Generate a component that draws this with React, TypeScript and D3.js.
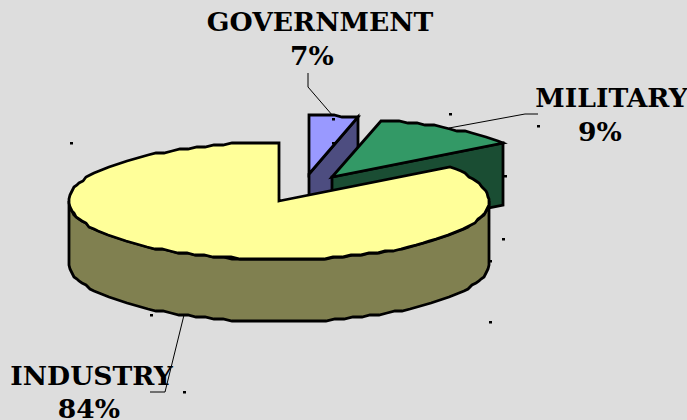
import React from "react";
import * as d3 from "d3";

const categories = ["GOVERNMENT", "MILITARY", "INDUSTRY"];
const shares = [7, 9, 84];
const percentLabels = ["7%", "9%", "84%"];
const topColors = ["#9999ff", "#339966", "#ffff99"];
const sideColors = ["#4d4d80", "#1a4d33", "#808050"];

const W = 687, H = 420;
const RX = 210, RY = 58.5, DEPTH = 62;
// centre of each exploded slice
const centres: [number, number][] = [[309, 174], [332, 177], [279, 201]];
// the 3D projection squeezes the slices unevenly: cumulative share -> drawn angle
const angleOf = d3.scaleLinear().domain([0, 7, 16, 100]).range([0, 13.5, 54.7, 360]);

const cumulative = d3.cumsum(shares);
const slices = shares.map((v, i) => ({
  start: (angleOf(cumulative[i] - v) * Math.PI) / 180,
  end: (angleOf(cumulative[i]) * Math.PI) / 180,
}));

const rim = (c: [number, number], a: number, dy = 0): [number, number] => [
  Math.round(c[0] + RX * Math.sin(a)),
  Math.round((c[1] - RY * Math.cos(a) + dy - 1) / 2) * 2 + 1,
];
const arcPts = (c: [number, number], a0: number, a1: number, dy = 0) => {
  const n = Math.max(2, Math.ceil(Math.abs(a1 - a0) / 0.045));
  return d3.range(n + 1).map((k) => rim(c, a0 + ((a1 - a0) * k) / n, dy));
};
const line = d3.line();
const closed = (p: [number, number][]) => line(p) + "Z";

const leaders: [number, number][][] = [
  [[308, 73], [308, 87], [333, 116]],
  [[538, 114], [525, 114], [449, 128]],
  [[150, 392], [165, 392], [184, 315]],
];
const specks: [number, number][] = [
  [71, 143], [151, 315], [184, 392], [333, 119], [333, 143], [450, 114],
  [538, 126], [505, 176], [503, 239], [490, 261], [490, 322],
];
const labelPos = [
  { x: 320, y: 31, px: 312, py: 65 },
  { x: 611.5, y: 107, px: 600, py: 141 },
  { x: 91.5, y: 385, px: 89, py: 418 },
];

export default function App() {
  const s = slices;
  const c = centres;
  // cut faces of the two small slices, extruded downward
  const cutFace = (i: number, a: number) => {
    const p = rim(c[i], a);
    return closed([c[i], p, [p[0], p[1] + DEPTH], [c[i][0], c[i][1] + DEPTH]]);
  };
  const wall = closed([
    ...arcPts(c[2], Math.PI / 2, (3 * Math.PI) / 2),
    ...arcPts(c[2], (3 * Math.PI) / 2, Math.PI / 2, DEPTH),
  ]);
  const stroke = { stroke: "#000", strokeWidth: 2.8, strokeLinejoin: "miter" as const };
  return (
    <svg width={W} height={H} style={{ position: "absolute", left: 0, top: 0, background: "#dddddd" }}>
      {/* GOVERNMENT */}
      <path d={cutFace(0, s[0].end)} fill={sideColors[0]} {...stroke} />
      <path d={closed([c[0], ...arcPts(c[0], s[0].start, s[0].end)])} fill={topColors[0]} {...stroke} />
      {/* MILITARY */}
      <path d={cutFace(1, s[1].end)} fill={sideColors[1]} {...stroke} />
      <path d={closed([c[1], ...arcPts(c[1], s[1].start, s[1].end)])} fill={topColors[1]} {...stroke} />
      {/* INDUSTRY */}
      <path d={wall} fill={sideColors[2]} {...stroke} />
      <path d={closed([c[2], ...arcPts(c[2], s[2].start, s[2].end)])} fill={topColors[2]} {...stroke} />
      {leaders.map((l, i) => (
        <path key={i} d={line(l) ?? ""} fill="none" stroke="#000" strokeWidth={1} />
      ))}
      {specks.map(([x, y], i) => (
        <rect key={i} x={x - 1} y={y - 1} width={3} height={2.5} fill="#000" />
      ))}
      <g fontFamily="'DejaVu Serif'" fontWeight="bold" fontSize={26.6} textAnchor="middle" fill="#000">
        {categories.map((t, i) => (
          <g key={t}>
            <text x={labelPos[i].x} y={labelPos[i].y}>{t}</text>
            <text x={labelPos[i].px} y={labelPos[i].py}>{percentLabels[i]}</text>
          </g>
        ))}
      </g>
    </svg>
  );
}
